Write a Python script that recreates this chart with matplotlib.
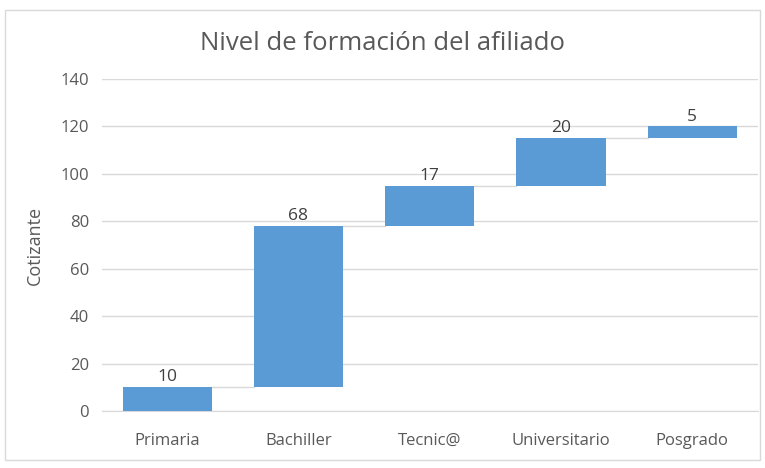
import matplotlib
matplotlib.use("Agg")
import matplotlib.pyplot as plt
from matplotlib.patches import Rectangle
import numpy as np

plt.rcParams['font.family'] = ['Open Sans', 'DejaVu Sans']

# data
categories = ["Primaria", "Bachiller", "Tecnic@", "Universitario", "Posgrado"]
values = [10, 68, 17, 20, 5]

ends = np.cumsum(values)
starts = ends - np.array(values)
x = np.arange(len(categories))
bar_w = 0.68

fig = plt.figure(figsize=(7.65, 4.68), dpi=100)
ax = fig.add_axes([0.1327, 0.1218, 0.858, 0.7094])

# light frame around the whole chart
fig.patches.append(Rectangle((0.007, 0.017), 0.987, 0.962, transform=fig.transFigure,
                             fill=False, edgecolor="#d9d9d9", linewidth=1))

ax.bar(x, values, bottom=starts, width=bar_w, color="#5b9bd5", zorder=3)

# connectors
for i in range(len(x) - 1):
    ax.plot([x[i] + bar_w / 2, x[i + 1] - bar_w / 2], [ends[i], ends[i]],
            color="#d9d9d9", linewidth=1, zorder=2)

for xi, top, v in zip(x, ends, values):
    ax.text(xi, top + 0.8, str(v), ha="center", va="bottom", fontsize=12.5, color="#404040", zorder=4)

ax.set_xlim(-0.5, len(x) - 0.5)
ax.set_ylim(0, 140)
ax.set_yticks(range(0, 141, 20))
ax.set_xticks(x)
ax.set_xticklabels(categories)
ax.yaxis.grid(True, color="#d9d9d9", linewidth=1, zorder=0)
ax.set_axisbelow(True)
for s in ["top", "right", "left"]:
    ax.spines[s].set_visible(False)
ax.spines["bottom"].set_color("#d9d9d9")
ax.tick_params(axis="both", length=0, labelsize=12, colors="#595959")
ax.tick_params(axis="x", pad=16)
ax.tick_params(axis="y", pad=9)

ax.set_ylabel("Cotizante", fontsize=13, color="#595959", labelpad=12)
fig.text(0.5, 0.906, "Nivel de formación del afiliado", ha="center", va="center",
         fontsize=18.5, color="#595959")

fig.savefig("out.png", dpi=100)
